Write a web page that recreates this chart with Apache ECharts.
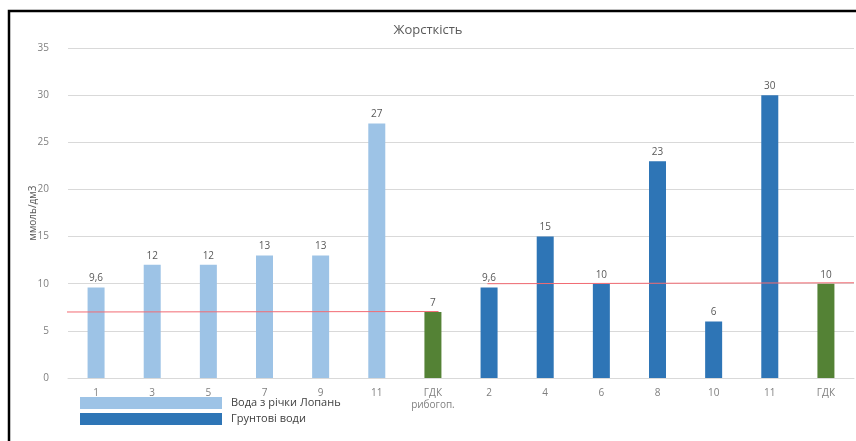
<!DOCTYPE html>
<html>
<head>
<meta charset="utf-8">
<script src="https://cdn.jsdelivr.net/npm/echarts@6/dist/echarts.min.js"></script>
<style>
  html, body { margin: 0; padding: 0; background: #fff; }
  #chart { width: 856px; height: 441px; }
</style>
</head>
<body>
<div id="chart"></div>
<script>
// Sampling points: river samples, fish-farming limit, groundwater wells, drinking limit
const categories = ['1', '3', '5', '7', '9', '11', 'ГДК\nрибогоп.', '2', '4', '6', '8', '10', '11', 'ГДК'];
const riverValues = [9.6, 12, 12, 13, 13, 27, null, null, null, null, null, null, null, null];
const groundValues = [null, null, null, null, null, null, null, 9.6, 15, 10, 23, 6, 30, null];
const limitValues = [null, null, null, null, null, null, 7, null, null, null, null, null, null, 10];
// Reference lines for the two limits (x in category units, y in ммоль/дм3)
const fishLimitLine = [[-0.68, 7], [6.1, 7.05]];
const drinkLimitLine = [[6.97, 10], [13.5, 10.1]];
const yTicks = { min: 0, max: 35, interval: 5 };

const labelColor = '#595959';
const valueLabel = {
  show: true,
  position: 'top',
  distance: 4,
  color: labelColor,
  fontSize: 10,
  fontFamily: 'Open Sans',
  formatter: p => (p.value == null ? '' : String(p.value).replace('.', ','))
};

const chart = echarts.init(document.getElementById('chart'), null, { renderer: 'canvas' });
chart.setOption({
  animation: false,
  backgroundColor: '#fff',
  title: {
    text: 'Жорсткість',
    left: 'center',
    top: 19,
    textStyle: { color: labelColor, fontSize: 13, fontWeight: 'normal', fontFamily: 'Open Sans' }
  },
  legend: {
    orient: 'vertical',
    left: 75,
    top: 392,
    itemWidth: 142,
    itemHeight: 12,
    itemGap: 4,
    icon: 'rect',
    data: ['Вода з річки Лопань', 'Грунтові води'],
    textStyle: { color: '#404040', fontSize: 11, fontFamily: 'Open Sans', padding: [0, 0, 0, 4] }
  },
  grid: { left: 68, right: 2, top: 48, bottom: 63, containLabel: false },
  xAxis: [
    {
      type: 'category',
      data: categories,
      axisLine: { show: true, lineStyle: { color: '#d9d9d9' } },
      axisTick: { show: false },
      axisLabel: { color: '#7f7f7f', fontSize: 10, fontFamily: 'Open Sans', margin: 9, interval: 0, lineHeight: 12 }
    },
    {
      type: 'value',
      min: -0.5,
      max: 13.5,
      show: false
    }
  ],
  yAxis: {
    type: 'value',
    min: yTicks.min,
    max: yTicks.max,
    interval: yTicks.interval,
    name: 'ммоль/дм3',
    nameLocation: 'middle',
    nameGap: 30,
    nameMoveOverlap: false,
    nameTextStyle: { color: labelColor, fontSize: 10, fontFamily: 'Open Sans' },
    axisLine: { show: false },
    axisTick: { show: false },
    axisLabel: { color: '#7f7f7f', fontSize: 10, fontFamily: 'Open Sans', margin: 19 },
    splitLine: { lineStyle: { color: '#d9d9d9', width: 1 } }
  },
  series: [
    {
      name: 'Вода з річки Лопань',
      type: 'bar',
      data: riverValues,
      barWidth: 17,
      barGap: '-100%',
      itemStyle: { color: '#9dc3e6' },
      label: valueLabel
    },
    {
      name: 'Грунтові води',
      type: 'bar',
      data: groundValues,
      barWidth: 17,
      barGap: '-100%',
      itemStyle: { color: '#2e75b6' },
      label: valueLabel
    },
    {
      name: 'ГДК',
      type: 'bar',
      data: limitValues,
      barWidth: 17,
      barGap: '-100%',
      itemStyle: { color: '#548235' },
      label: valueLabel
    },
    {
      name: 'ГДК рибогоп. лінія',
      type: 'line',
      xAxisIndex: 1,
      data: fishLimitLine,
      clip: false,
      symbol: 'none',
      z: 5,
      lineStyle: { color: '#f26b73', width: 1 }
    },
    {
      name: 'ГДК лінія',
      type: 'line',
      xAxisIndex: 1,
      data: drinkLimitLine,
      clip: false,
      symbol: 'none',
      z: 5,
      lineStyle: { color: '#f26b73', width: 1 }
    }
  ],
  graphic: [
    {
      type: 'polyline',
      shape: { points: [[9, 441], [9, 11], [856, 11]] },
      style: { stroke: '#000', lineWidth: 2.5, fill: null },
      silent: true
    }
  ]
});
</script>
</body>
</html>
